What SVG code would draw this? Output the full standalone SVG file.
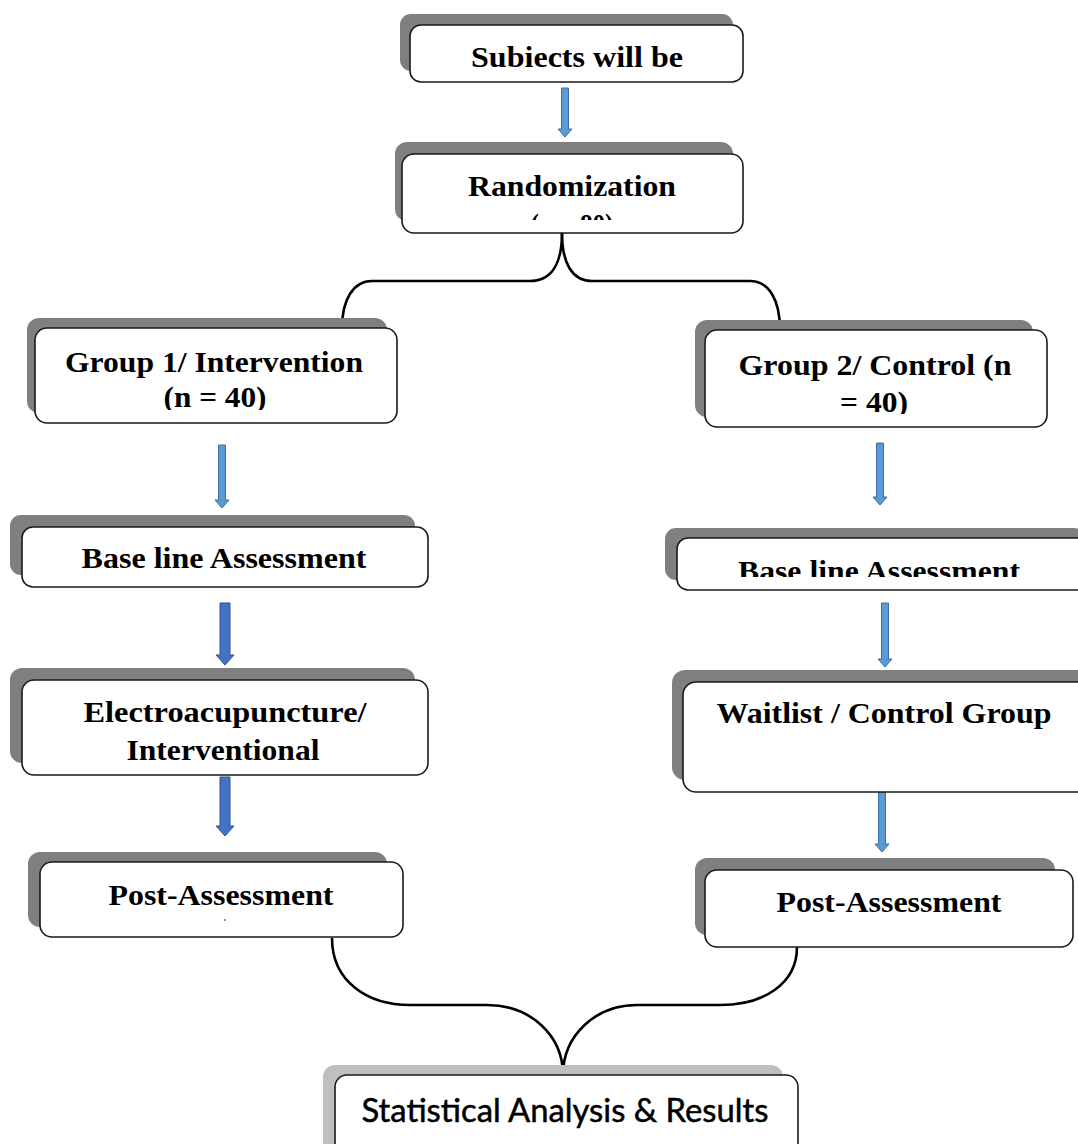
<svg xmlns="http://www.w3.org/2000/svg" width="1078" height="1144" viewBox="0 0 1078 1144">
<defs>
<style>
.sh{fill:#7f7f7f;}
.shl{fill:#bfbfbf;}
.bx{fill:#fff;stroke:#1a1a1a;stroke-width:1.6;}
.t{font-family:"Liberation Serif","Times New Roman",serif;font-weight:bold;font-size:29px;fill:#000;text-anchor:middle;}
.ts{font-family:Lato,"Liberation Sans",sans-serif;font-size:33px;fill:#000;stroke:#000;stroke-width:0.5;text-anchor:middle;}
.ar{fill:#5b9bd5;stroke:#3a6ea5;stroke-width:1;}
.ak{fill:#4472c4;stroke:#2f528f;stroke-width:1;}
.br{fill:none;stroke:#000;stroke-width:2.6;}
</style>
<clipPath id="cRand"><rect x="402" y="150" width="341" height="70"/></clipPath>
<clipPath id="cG1"><rect x="35" y="328" width="362" height="82"/></clipPath>
<clipPath id="cG2"><rect x="705" y="330" width="342" height="84"/></clipPath>
<clipPath id="cBR"><rect x="677" y="538" width="420" height="39"/></clipPath>
</defs>

<g id="connectors">
<path class="ar" d="M561.5,88 H568.5 V129 H572 L565,137 L558,129 H561.5 Z"/>
<path class="ar" d="M218.5,445 H225.5 V500 H229 L222,508 L215,500 H218.5 Z"/>
<path class="ar" d="M876.5,443 H883.5 V497 H887 L880,505 L873,497 H876.5 Z"/>
<path class="ak" d="M220,603 H230 V655 H234 L225,665 L216,655 H220 Z"/>
<path class="ar" d="M881.5,603 H888.5 V659 H892 L885,667 L878,659 H881.5 Z"/>
<path class="ak" d="M220,777 H230 V826 H234 L225,836 L216,826 H220 Z"/>
<path class="ar" d="M878.5,792 H885.5 V844 H889 L882,852 L875,844 H878.5 Z"/>
<path class="br" d="M562,233 C562,263 552,281 530,281 H372 C353,281 342,300 342,328"/>
<path class="br" d="M562,233 C562,263 572,281 592,281 H750 C769,281 780,300 780,330"/>
<path class="br" d="M332,938 C332,982 368,1005 410,1005 H487 C530,1005 563,1035 563,1075"/>
<path class="br" d="M797,947 C797,985 762,1005 720,1005 H637 C596,1005 563,1035 563,1075"/>
</g>

<g id="n1">
<rect class="sh" x="400" y="14" width="333" height="57" rx="11"/>
<rect class="bx" x="410" y="25" width="333" height="57" rx="11"/>
<text class="t" x="577" y="67" textLength="212" lengthAdjust="spacingAndGlyphs">Subiects will be</text>
</g>

<g id="n2">
<rect class="sh" x="395" y="142" width="338" height="79" rx="12"/>
<rect class="bx" x="402" y="154" width="341" height="79" rx="12"/>
<g clip-path="url(#cRand)">
<text class="t" x="572" y="196" textLength="208" lengthAdjust="spacingAndGlyphs">Randomization</text>
<text class="t" x="572" y="234" textLength="83" lengthAdjust="spacingAndGlyphs">(n = 80)</text>
</g>
</g>

<g id="n3">
<rect class="sh" x="27" y="318" width="360" height="95" rx="12"/>
<rect class="bx" x="35" y="328" width="362" height="95" rx="12"/>
<g clip-path="url(#cG1)">
<text class="t" x="214" y="372" textLength="298" lengthAdjust="spacingAndGlyphs">Group 1/ Intervention</text>
<text class="t" x="215" y="407" textLength="103" lengthAdjust="spacingAndGlyphs">(n = 40)</text>
</g>
</g>

<g id="n4">
<rect class="sh" x="695" y="320" width="338" height="97" rx="12"/>
<rect class="bx" x="705" y="330" width="342" height="97" rx="12"/>
<g clip-path="url(#cG2)">
<text class="t" x="875" y="375" textLength="273" lengthAdjust="spacingAndGlyphs">Group 2/ Control (n</text>
<text class="t" x="874" y="412" textLength="68" lengthAdjust="spacingAndGlyphs">= 40)</text>
</g>
</g>

<g id="n5">
<rect class="sh" x="10" y="515" width="405" height="60" rx="11"/>
<rect class="bx" x="22" y="527" width="406" height="60" rx="11"/>
<text class="t" x="224" y="568" textLength="285" lengthAdjust="spacingAndGlyphs">Base line Assessment</text>
</g>

<g id="n6">
<rect class="sh" x="10" y="668" width="405" height="95" rx="12"/>
<rect class="bx" x="22" y="680" width="406" height="95" rx="12"/>
<text class="t" x="225" y="722" textLength="283" lengthAdjust="spacingAndGlyphs">Electroacupuncture/</text>
<text class="t" x="223" y="760" textLength="193" lengthAdjust="spacingAndGlyphs">Interventional</text>
</g>

<g id="n7">
<rect class="sh" x="28" y="852" width="359" height="75" rx="12"/>
<rect class="bx" x="40" y="862" width="363" height="75" rx="12"/>
<text class="t" x="221" y="905" textLength="225" lengthAdjust="spacingAndGlyphs">Post-Assessment</text>
<rect x="224" y="919" width="2" height="2" fill="#999"/>
</g>

<g id="n8">
<rect class="sh" x="665" y="528" width="420" height="52" rx="11"/>
<rect class="bx" x="677" y="538" width="420" height="52" rx="11"/>
<g clip-path="url(#cBR)">
<text class="t" x="879" y="581" textLength="282" lengthAdjust="spacingAndGlyphs">Base line Assessment</text>
</g>
</g>

<g id="n9">
<rect class="sh" x="672" y="670" width="420" height="110" rx="13"/>
<rect class="bx" x="683" y="682" width="420" height="110" rx="13"/>
<text class="t" x="884" y="723" textLength="335" lengthAdjust="spacingAndGlyphs">Waitlist / Control Group</text>
</g>

<g id="n10">
<rect class="sh" x="695" y="858" width="360" height="77" rx="12"/>
<rect class="bx" x="705" y="870" width="368" height="77" rx="12"/>
<text class="t" x="889" y="912" textLength="225" lengthAdjust="spacingAndGlyphs">Post-Assessment</text>
</g>

<g id="n11">
<rect class="shl" x="323" y="1065" width="460" height="95" rx="12"/>
<rect class="bx" x="335" y="1075" width="463" height="95" rx="12"/>
<text class="ts" x="565" y="1122" textLength="407" lengthAdjust="spacingAndGlyphs">Statistical Analysis &amp; Results</text>
</g>
</svg>
